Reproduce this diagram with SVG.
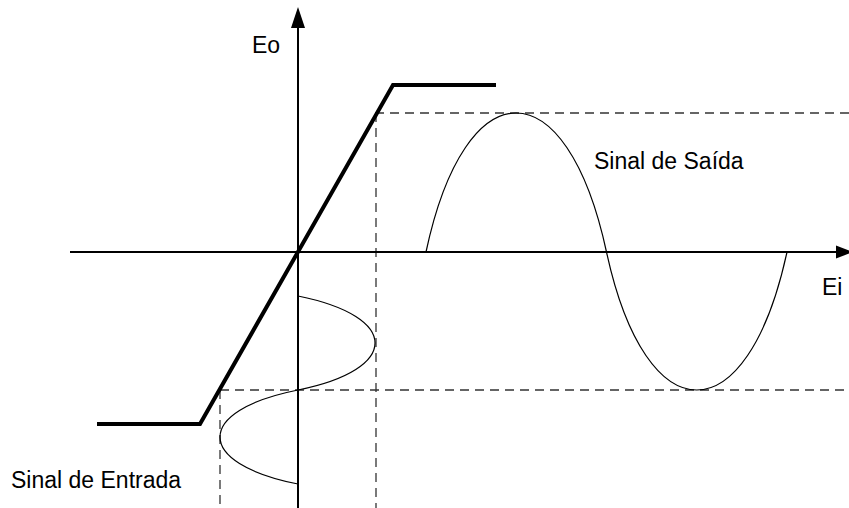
<svg xmlns="http://www.w3.org/2000/svg" width="849" height="508" viewBox="0 0 849 508">
<style>
.axis{stroke:#000;stroke-width:2;fill:none}
.thick{stroke:#000;stroke-width:4;fill:none;stroke-linejoin:miter}
.dash{stroke:#333;stroke-width:1.3;stroke-dasharray:9,6;fill:none}
.wave{stroke:#000;stroke-width:1.2;fill:none}
.lbl{font-family:"Liberation Sans",Arial,sans-serif;font-size:23px;fill:#000}
</style>
<rect width="849" height="508" fill="#fff"/>
<g id="connectors">
<line class="dash" x1="375" y1="113" x2="849" y2="113"/>
<line class="dash" x1="376" y1="113" x2="376" y2="508"/>
<line class="dash" x1="220" y1="390" x2="849" y2="390"/>
<line class="dash" x1="220" y1="390" x2="220" y2="508"/>
</g>
<g id="axis-y">
<line class="axis" x1="298" y1="508" x2="298" y2="26"/>
<polygon points="298,7 291,28 305,28" fill="#000"/>
</g>
<g id="axis-x">
<line class="axis" x1="70" y1="252" x2="836" y2="252"/>
<polygon points="853,252 836,245.5 836,258.5" fill="#000"/>
</g>
<g id="transfer">
<polyline class="thick" points="97,424 200,424 393,85 496,85"/>
</g>
<g id="input-signal">
<path class="wave" d="M298,296 C400.7,316.7 400.7,369.3 298,390 C194,410.7 194,463.3 298,484"/>
</g>
<g id="output-signal">
<path class="wave" d="M426,252 C465.6,66.7 566.5,66.7 606.5,252 C646.4,436 747.1,436 787,252"/>
</g>
<g id="labels">
<text class="lbl" x="252" y="53">Eo</text>
<text class="lbl" x="822" y="295">Ei</text>
<text class="lbl" x="594" y="169">Sinal de Saída</text>
<text class="lbl" x="11" y="488">Sinal de Entrada</text>
</g>
</svg>
